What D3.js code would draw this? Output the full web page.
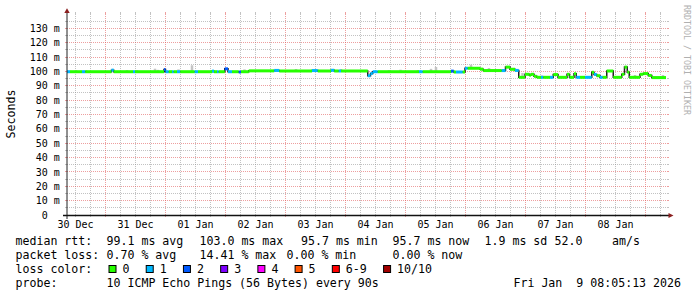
<!DOCTYPE html>
<html>
<head>
<meta charset="utf-8">
<script src="https://cdn.jsdelivr.net/npm/d3@7"></script>
<style>
  html, body { margin: 0; padding: 0; background: #fff; }
  svg { display: block; }
  text { font-family: "DejaVu Sans Mono", monospace; fill: #000; white-space: pre; }
</style>
</head>
<body>
<svg id="chart" width="697" height="297"></svg>
<script>
// time window shown (10 days, UTC)
const windowStart = new Date(Date.UTC(2025, 11, 30, 8, 36));
const windowHours = 240;
const dataEndHour = 239.6;

// median rtt as steps: start hour from windowStart, value (ms), lost pings out of 10
const stepHours = [0.0, 1.2, 6.0, 7.3, 17.8, 18.7, 26.4, 27.2, 38.8, 39.4, 40.7, 42.0, 42.7, 44.0, 45.3,
  51.1, 52.4, 58.0, 58.8, 60.0, 60.7, 63.1, 64.4, 66.0, 68.7, 69.6, 72.7, 82.9, 84.9, 98.0, 100.3,
  105.6, 106.9, 108.7, 109.6, 120.3, 121.4, 122.3, 124.3, 140.8, 142.3, 153.6, 154.7, 155.6, 158.3,
  159.2, 160.3, 165.2, 166.5, 173.9, 175.4, 177.2, 179.2, 180.7, 183.2, 184.9, 185.6, 186.8, 187.9,
  189.6, 190.5, 193.2, 194.5, 196.4, 200.0, 201.0, 202.8, 203.7, 205.2, 207.2, 209.9, 210.8, 211.9,
  213.2, 214.3, 215.9, 218.5, 221.9, 223.0, 224.1, 224.9, 229.2, 230.5, 232.5, 233.9];
const medianMs = [99.8, 99.8, 99.8, 99.8, 100.9, 99.8, 99.8, 99.8, 101.3, 99.8, 99.8, 99.8, 99.8, 99.8, 99.8,
  99.8, 99.8, 100.2, 99.8, 99.8, 99.8, 101.8, 99.8, 99.8, 99.6, 99.8, 100.4, 100.7, 100.3, 100.6, 100.3,
  100.8, 100.3, 100.3, 100.3, 97.0, 98.6, 99.8, 99.8, 99.8, 99.8, 100.2, 99.6, 99.6, 99.6,
  102.2, 102.2, 101.6, 100.6, 100.6, 103.0, 101.5, 100.7, 95.9, 98.0, 97.4, 98.0, 96.6, 95.9,
  95.9, 95.9, 95.9, 97.8, 95.9, 98.0, 95.9, 98.4, 95.9, 95.9, 95.9, 99.4, 97.9, 97.0,
  95.9, 95.9, 100.3, 95.9, 98.0, 103.0, 99.5, 95.9, 98.0, 98.5, 97.2, 95.7];
const lossCount = [1, 0, 1, 0, 1, 0, 1, 0, 2, 1, 0, 1, 0, 1, 0,
  1, 0, 1, 0, 1, 0, 2, 1, 0, 2, 0, 0, 1, 0, 1, 0,
  1, 0, 1, 0, 1, 1, 1, 0, 1, 0, 2, 0, 1, 0,
  1, 0, 0, 0, 1, 0, 0, 1, 0, 0, 0, 0, 0, 0,
  1, 0, 1, 0, 0, 0, 0, 0, 1, 0, 1, 0, 1, 0,
  1, 0, 0, 0, 0, 0, 0, 0, 0, 0, 0, 0];

// smoke (spread of single pings) poking out above the median
const smokeHours = [3.6, 7.6, 24.0, 28.0, 35.2, 36.4, 44.6, 50.0, 71.0, 91.6, 109.6, 128.8, 133.4,
  140.4, 145.6, 147.6, 161.6, 168.8, 182.2, 190.0, 210.4, 227.2, 238.4];
const smokeTopMs = [101.0, 101.0, 101.0, 101.0, 101.9, 101.1, 101.4, 104.3, 101.4, 101.7, 101.7, 101.0, 101.2,
  101.0, 101.8, 103.1, 104.7, 102.4, 98.9, 97.2, 99.7, 97.5, 97.5];

const yTicks = d3.range(0, 131, 10);

const lossLabels = ['0', '1', '2', '3', '4', '5', '6-9', '10/10'];
const lossColors = ['#26ff00', '#00b8ff', '#0059ff', '#7e00ff', '#ff00ff', '#ff5500', '#ff0000', '#a10000'];

const rttStatValues = ['99.1', '103.0', '95.7', '95.7', '1.9'];
const rttStatNames = ['ms avg', 'ms max', 'ms min', 'ms now', 'ms sd'];
const amValue = '52.0';
const lossStatValues = ['0.70', '14.41', '0.00', '0.00'];
const lossStatNames = ['% avg', '% max', '% min', '% now'];
const probeText = '10 ICMP Echo Pings (56 Bytes) every 90s';
const stampText = 'Fri Jan  9 08:05:13 2026';

const svg = d3.select('#chart');
const plotL = 67, plotR = 667, plotT = 14, plotB = 215;

const x = d3.scaleUtc()
  .domain([windowStart, d3.utcHour.offset(windowStart, windowHours)])
  .range([plotL, plotR]);
const y = d3.scaleLinear().domain([0, 140]).range([plotB, plotT]);
const atHour = h => new Date(windowStart.getTime() + h * 3600e3);
const half = v => Math.round(v - 0.5) + 0.5;

const minorCol = 'rgba(143,143,143,0.55)';
const majorCol = 'rgba(222,80,80,0.55)';

// grid
const grid = svg.append('g');
const hLines = d3.range(5, 140, 5).map(v => ({ v, major: v % 10 === 0 }));
const vLines = x.ticks(d3.utcHour.every(6)).map(d => ({ d, major: d.getUTCHours() === 0 }));

function drawGrid(major) {
  const col = major ? majorCol : minorCol;
  hLines.filter(l => l.major === major).forEach(l => {
    const yy = half(y(l.v));
    grid.append('line').attr('x1', plotL).attr('x2', plotR).attr('y1', yy).attr('y2', yy)
      .attr('stroke', col).attr('stroke-dasharray', '1,1');
    grid.append('line').attr('x1', plotL - 2).attr('x2', plotL).attr('y1', yy).attr('y2', yy).attr('stroke', col);
    grid.append('line').attr('x1', plotR).attr('x2', plotR + 2).attr('y1', yy).attr('y2', yy).attr('stroke', col);
  });
  vLines.filter(l => l.major === major).forEach(l => {
    const xx = half(x(l.d));
    grid.append('line').attr('x1', xx).attr('x2', xx).attr('y1', plotT).attr('y2', plotB)
      .attr('stroke', col).attr('stroke-dasharray', '1,1');
    grid.append('line').attr('x1', xx).attr('x2', xx).attr('y1', plotT - 2).attr('y2', plotT).attr('stroke', col);
    grid.append('line').attr('x1', xx).attr('x2', xx).attr('y1', plotB).attr('y2', plotB + 2).attr('stroke', col);
  });
}
drawGrid(false);
drawGrid(true);

// y tick labels
svg.append('g').selectAll('text')
  .data(yTicks)
  .join('text')
  .attr('x', d => d === 0 ? 59.8 - 12 : 59.8)
  .attr('y', d => y(d) + 3.6)
  .attr('text-anchor', 'end')
  .attr('font-size', 10)
  .text(d => d === 0 ? '0' : `${d} m`);

// x labels, centred on noon of each day
const noons = d3.utcDay.range(d3.utcDay.floor(windowStart), x.domain()[1])
  .map(d => d3.utcHour.offset(d, 12))
  .filter(d => d >= x.domain()[0] && d <= x.domain()[1]);
svg.append('g').selectAll('text')
  .data(noons)
  .join('text')
  .attr('x', d => x(d))
  .attr('y', 228)
  .attr('text-anchor', 'middle')
  .attr('font-size', 10)
  .text(d3.utcFormat('%d %b'));

// data
const steps = stepHours.map((h, i) => ({
  t0: atHour(h),
  t1: atHour(i + 1 < stepHours.length ? stepHours[i + 1] : dataEndHour),
  v: medianMs[i],
  loss: lossCount[i]
}));
const bucket = n => n <= 5 ? n : (n < 10 ? 6 : 7);

const medianAt = h => medianMs[Math.max(0, d3.bisectRight(stepHours, h) - 1)];
svg.append('g').selectAll('rect')
  .data(smokeHours.map((h, i) => ({ h, top: smokeTopMs[i] })))
  .join('rect')
  .attr('x', d => x(atHour(d.h)) - 1.25)
  .attr('width', 2.5)
  .attr('y', d => y(d.top))
  .attr('height', d => Math.max(0, y(medianAt(d.h)) - y(d.top)))
  .attr('fill', '#c4c4c4');

const stepPts = steps.map(s => [s.t0, s.v]).concat([[atHour(dataEndHour), medianMs[medianMs.length - 1]]]);
svg.append('path')
  .datum(stepPts)
  .attr('fill', 'none')
  .attr('stroke', '#202020')
  .attr('stroke-width', 1.5)
  .attr('d', d3.line().x(d => x(d[0])).y(d => y(d[1])).curve(d3.curveStepAfter));

svg.append('g').selectAll('rect')
  .data(steps)
  .join('rect')
  .attr('x', d => x(d.t0))
  .attr('width', d => x(d.t1) - x(d.t0))
  .attr('y', d => y(d.v) - 1.5)
  .attr('height', 3)
  .attr('fill', d => lossColors[bucket(d.loss)]);

// axes with arrows
svg.append('line').attr('x1', 67).attr('x2', 67).attr('y1', 219).attr('y2', 11)
  .attr('stroke', '#222').attr('stroke-width', 1);
svg.append('line').attr('x1', 63).attr('x2', 670).attr('y1', 215.5).attr('y2', 215.5)
  .attr('stroke', '#111').attr('stroke-width', 1.3);
svg.append('path').attr('d', 'M64.3,13 L69.7,13 L67,8.3 Z').attr('fill', '#8b1f1f');
svg.append('path').attr('d', 'M668.5,213 L668.5,218 L673.5,215.5 Z').attr('fill', '#8b1f1f');

// labels
svg.append('text')
  .attr('transform', 'translate(15.3,114) rotate(-90)')
  .attr('text-anchor', 'middle')
  .attr('font-size', 11.6)
  .text('Seconds');

svg.append('text')
  .attr('transform', 'translate(684.3,5) rotate(90)')
  .attr('font-size', 8.3)
  .style('fill', '#b0b0b0')
  .text('RRDTOOL / TOBI OETIKER');

// legend
const lg = svg.append('g').attr('font-size', 11.6);
const put = (xx, yy, str) => lg.append('text').attr('x', xx).attr('y', yy).text(str);

const row1 = 245, row2 = 259, row3 = 273, row4 = 287;
put(15.5, row1, 'median rtt:');
[106.5, 199.5, 301, 392.5, 484.5].forEach((xx, i) => put(xx, row1, `${rttStatValues[i]} ${rttStatNames[i]}`));
put(554.5, row1, amValue);
put(612, row1, 'am/s');

put(15.5, row2, 'packet loss:');
[106.5, 199.5, 286.5, 392.5].forEach((xx, i) => put(xx, row2, `${lossStatValues[i]} ${lossStatNames[i]}`));

put(15.5, row3, 'loss color:');
let bx = 108.5;
lossLabels.forEach((lab, i) => {
  lg.append('rect').attr('x', bx + 0.5).attr('y', 265.5).attr('width', 7).attr('height', 7)
    .attr('fill', lossColors[i]).attr('stroke', '#000').attr('stroke-width', 1);
  put(bx + 14, row3, lab);
  bx += 14 + lab.length * 7.02 + 16.2;
});

put(15.5, row4, 'probe:');
put(106.5, row4, probeText);
put(681, row4, stampText).attr('text-anchor', 'end');
</script>
</body>
</html>
